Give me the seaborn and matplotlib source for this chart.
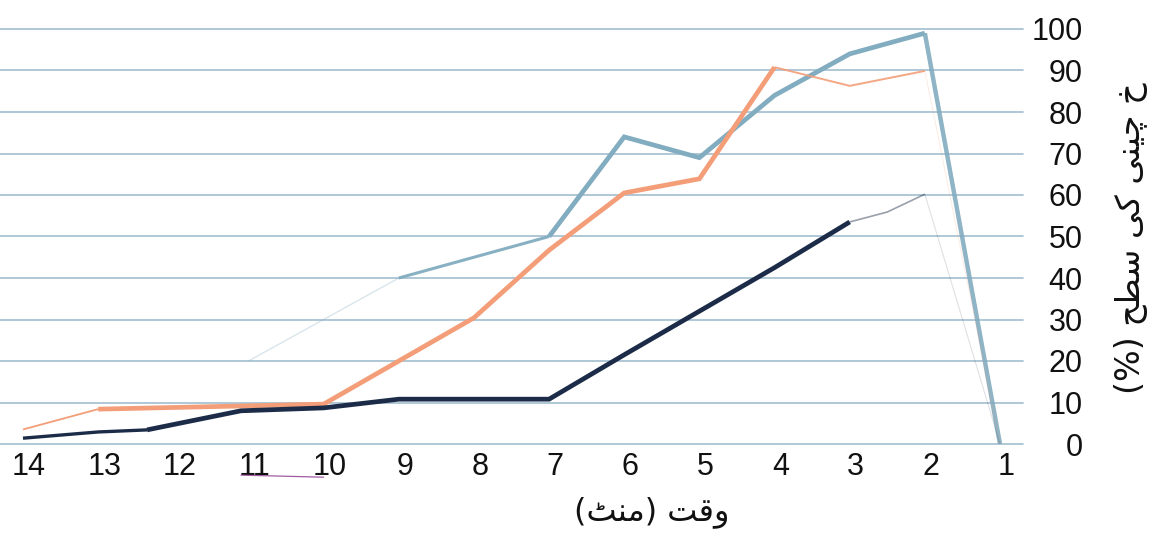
import matplotlib
matplotlib.use("Agg")
import matplotlib.pyplot as plt
import matplotlib.transforms as mtransforms
import numpy as np
import pandas as pd
import seaborn as sns

# ---- data -------------------------------------------------------------
minutes_ticks = list(range(14, 0, -1))
level_ticks = list(range(0, 101, 10))

blue_x = [11, 10, 9, 8, 7, 6, 5, 4, 3, 2, 1]
blue_y = [20, 30, 40, 45, 50, 74, 69, 84, 94, 99, 0]

orange_x = [14, 13, 12, 11, 10, 9, 8, 7, 6, 5, 4, 3, 2, 1]
orange_y = [3.5, 8.4, 8.8, 9.2, 9.6, 20, 30.4, 46.7, 60.5, 63.9, 90.8, 86.3, 89.9, 0]

navy_x = [14, 13, 12.35, 11.1, 10, 9, 7, 6, 5, 4, 3, 2.5, 2, 1]
navy_y = [1.4, 2.9, 3.4, 8.0, 8.7, 10.8, 10.8, 21.5, 32, 42.5, 53.5, 55.9, 60.2, 0]

x_label_text = "وقت (منٹ)"
y_label_text = "خ چینی کی سطح (%)"

# ---- styling ----------------------------------------------------------
BLUE = "#82acc0"
ORANGE = "#f39e78"
NAVY = "#1c2c48"
GRID = "#a9c3d3"

# pieces of each line: (from x, to x, line width, alpha)
blue_style = [(11, 9, 1.0, 0.3), (9, 7, 2.2, 0.95), (7, 2, 3.4, 1.0), (2, 1, 3.2, 0.9)]
orange_style = [(14, 13, 1.3, 1.0), (13, 4, 3.4, 1.0), (4, 2, 1.4, 0.9), (2, 1, 0.8, 0.18)]
navy_style = [(14, 12.35, 2.4, 1.0), (12.35, 3, 3.4, 1.0), (3, 2, 1.2, 0.45), (2, 1, 0.8, 0.14)]


# Arabic-script shaping for matplotlib (which does not join letters itself)
FORMS = {  # isolated, final, initial, medial
    "و": ("\ufeed", "\ufeee", None, None),
    "ق": ("\ufed5", "\ufed6", "\ufed7", "\ufed8"),
    "ت": ("\ufe95", "\ufe96", "\ufe97", "\ufe98"),
    "م": ("\ufee1", "\ufee2", "\ufee3", "\ufee4"),
    "ن": ("\ufee5", "\ufee6", "\ufee7", "\ufee8"),
    "ٹ": ("\ufb66", "\ufb67", "\ufb68", "\ufb69"),
    "س": ("\ufeb1", "\ufeb2", "\ufeb3", "\ufeb4"),
    "ط": ("\ufec1", "\ufec2", "\ufec3", "\ufec4"),
    "ح": ("\ufea1", "\ufea2", "\ufea3", "\ufea4"),
    "خ": ("\ufea5", "\ufea6", "\ufea7", "\ufea8"),
    "ک": ("\ufb8e", "\ufb8f", "\ufb90", "\ufb91"),
    "ی": ("\ufbfc", "\ufbfd", "\ufbfe", "\ufbff"),
    "چ": ("\ufb7a", "\ufb7b", "\ufb7c", "\ufb7d"),
}
MIRROR = {"(": ")", ")": "("}


def shape_rtl(text):
    out = []
    n = len(text)
    for i, ch in enumerate(text):
        if ch not in FORMS:
            out.append(ch)
            continue
        prev = text[i - 1] if i > 0 else ""
        nxt = text[i + 1] if i + 1 < n else ""
        join_prev = prev in FORMS and FORMS[prev][2] is not None
        join_next = FORMS[ch][2] is not None and nxt in FORMS
        iso, fin, ini, med = FORMS[ch]
        if join_prev and join_next:
            out.append(med)
        elif join_prev:
            out.append(fin)
        elif join_next:
            out.append(ini)
        else:
            out.append(iso)
    return "".join(MIRROR.get(c, c) for c in reversed(out))


# ---- figure -----------------------------------------------------------
sns.set_theme(style="white")
plt.rcParams["font.family"] = ["Liberation Sans", "DejaVu Sans"]

W, H = 1158, 536
fig = plt.figure(figsize=(W / 100, H / 100), dpi=100)
ax = fig.add_axes([0, 1 - 444 / H, 1023 / W, (444 - 29) / H])


def draw_series(xs, ys, color, style):
    df = pd.DataFrame({"x": xs, "y": ys})
    for x0, x1, lw, a in style:
        lo, hi = min(x0, x1), max(x0, x1)
        part = df[(df["x"] >= lo) & (df["x"] <= hi)]
        sns.lineplot(data=part, x="x", y="y", color=color, lw=lw, alpha=a,
                     sort=False, estimator=None, ax=ax, zorder=3,
                     solid_joinstyle="miter", solid_capstyle="butt")


draw_series(blue_x, blue_y, BLUE, blue_style)
draw_series(orange_x, orange_y, ORANGE, orange_style)
draw_series(navy_x, navy_y, NAVY, navy_style)

ax.set_xlim(14.306, 0.694)
ax.set_ylim(0, 100)
ax.set_xticks(minutes_ticks)
ax.set_xticklabels([str(v) for v in minutes_ticks])
ax.set_yticks(level_ticks)
ax.set_yticklabels([str(v) for v in level_ticks])

ax.yaxis.grid(True, color=GRID, lw=1.3, zorder=0)
ax.xaxis.grid(False)
ax.set_axisbelow(True)
for gl in ax.get_ygridlines():
    gl.set_clip_on(False)
for s in ax.spines.values():
    s.set_visible(False)

ax.yaxis.tick_right()
ax.tick_params(axis="x", length=0, pad=6, labelsize=22, labelcolor="#111111")
ax.tick_params(axis="y", length=0, pad=43, labelsize=22, labelcolor="#111111")
for t in ax.get_yticklabels():
    t.set_horizontalalignment("right")
shift = mtransforms.ScaledTranslation(6 / 100, 0, fig.dpi_scale_trans)
for t in ax.get_xticklabels():
    t.set_transform(t.get_transform() + shift)

# thin stroke under the 11-10 labels
ax.plot([11.1, 10.0], [-0.075, -0.08], color="#8e3f8e", lw=0.9, alpha=0.85,
        transform=ax.get_xaxis_transform(), clip_on=False)

ax.set_xlabel(shape_rtl(x_label_text), fontsize=23, color="#111111",
              family=["DejaVu Sans"])
ax.xaxis.set_label_coords(0.637, -0.165)
ax.xaxis.label.set_verticalalignment("center")

ax.yaxis.set_label_position("right")
ax.set_ylabel(shape_rtl(y_label_text), fontsize=24, color="#111111",
              family=["DejaVu Sans"], rotation=90)
ax.yaxis.set_label_coords(1131 / 1023, 0.495)
ax.yaxis.label.set_verticalalignment("center")

fig.savefig("out.png", dpi=100)
